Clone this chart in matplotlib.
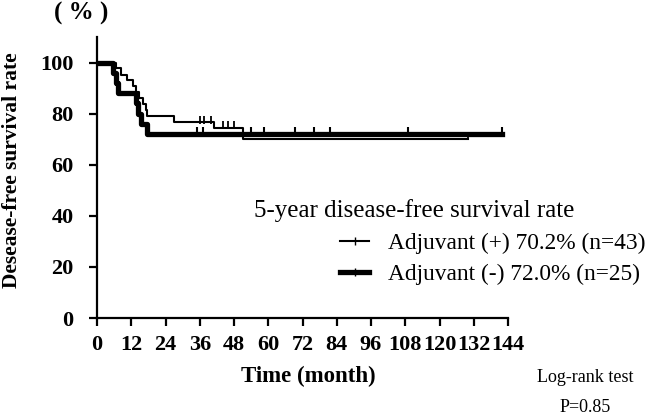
import numpy as np
import matplotlib

matplotlib.use('Agg')

import matplotlib.pyplot as plt
from matplotlib.lines import Line2D

plt.rcParams['font.family'] = ['Liberation Serif', 'DejaVu Serif']

# Adjuvant (+): thin line
pos_time = [0, 6.5, 8.5, 10.5, 12.5, 13.7, 14.7, 16, 17, 17.5, 27, 41, 51, 130]
pos_surv = [100, 97.7, 95.3, 93.0, 90.7, 88.4, 86.0, 83.7, 81.4, 79.1, 76.7, 74.5, 70.2, 70.2]
pos_cens_t = [36, 37.5, 40, 44, 46, 48, 130]
pos_cens_s = [76.7, 76.7, 76.7, 74.5, 74.5, 74.5, 70.2]

# Adjuvant (-): thick line
neg_time = [0, 5.5, 6.5, 7.5, 13.5, 14.5, 15.5, 17.5, 142]
neg_surv = [100, 96, 92, 88, 84, 80, 76, 72, 72]
neg_cens_t = [35, 37, 54, 58.5, 69.5, 76, 81.5, 109, 142]
neg_cens_s = [72] * 9

xticks = np.arange(0, 145, 12)
yticks = np.arange(0, 101, 20)

W, H = 647, 417
fig = plt.figure(figsize=(W / 100, H / 100), dpi=100)
ax = fig.add_axes([97 / W, 1 - 318 / H, 411 / W, 281 / H])

ax.step(neg_time, neg_surv, where='post', color='black', linewidth=3.8)
ax.plot(neg_cens_t, [s + 1.2 for s in neg_cens_s], '|', color='black', markersize=6, markeredgewidth=1.5)
ax.step(pos_time, pos_surv, where='post', color='black', linewidth=1.5)
ax.plot(pos_cens_t, [s + 1 for s in pos_cens_s], '|', color='black', markersize=6, markeredgewidth=1.3)

ax.set_xlim(0, 144)
ax.set_ylim(0, 110)
ax.set_xticks(xticks)
ax.set_yticks(yticks)
ax.spines['top'].set_visible(False)
ax.spines['right'].set_visible(False)
for s in ['left', 'bottom']:
    ax.spines[s].set_linewidth(1.6)
ax.tick_params(direction='out', length=6, width=1.6, labelsize=16)
ax.tick_params(axis='y', pad=11)
ax.tick_params(axis='x', pad=6.5)
for lab in ax.get_xticklabels() + ax.get_yticklabels():
    lab.set_fontweight('bold')

fig.text(308 / W, 1 - 376 / H, 'Time (month)', fontsize=16.5, fontweight='bold', ha='center', va='center')
fig.text(12 / W, 1 - 170 / H, 'Desease-free survival rate', fontsize=15.5, fontweight='bold',
         rotation=90, ha='center', va='center')
fig.text(81 / W, 1 - 13 / H, '( % )', fontsize=18, fontweight='bold', ha='center', va='center')

fig.text(254 / W, 1 - 211 / H, '5-year disease-free survival rate', fontsize=18, ha='left', va='center')

handles = [
    Line2D([0, 0.5, 1], [0, 0, 0], color='black', linewidth=1.5, marker='|', markersize=6, markevery=[1]),
    Line2D([0, 0.5, 1], [0, 0, 0], color='black', linewidth=3.8, marker='|', markersize=6, markevery=[1]),
]
fig.legend(handles, ['Adjuvant (+) 70.2% (n=43)', 'Adjuvant (-) 72.0% (n=25)'],
           loc='center left', bbox_to_anchor=(340 / W, 1 - 259 / H), frameon=False,
           fontsize=16.8, handlelength=1.25, handletextpad=0.8, labelspacing=0.4,
           borderpad=0, borderaxespad=0)

fig.text(585 / W, 1 - 377 / H, 'Log-rank test', fontsize=13, ha='center', va='center')
fig.text(585 / W, 1 - 408 / H, 'P=0.85', fontsize=13, ha='center', va='center')

plt.savefig('out.png', dpi=100)
plt.close(fig)
